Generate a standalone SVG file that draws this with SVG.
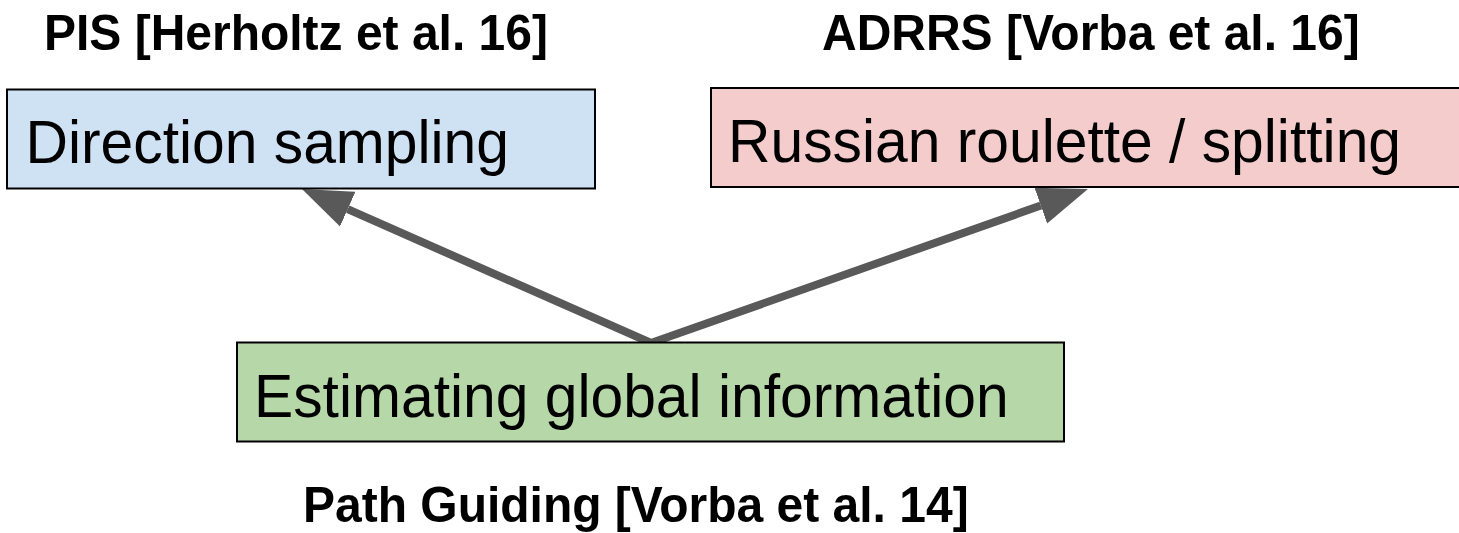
<svg xmlns="http://www.w3.org/2000/svg" width="1459" height="533" viewBox="0 0 1459 533">
  <defs>
    <style>
      .box { stroke: #000; stroke-width: 2; }
      .label { font-family: "Liberation Sans", Arial, sans-serif; font-size: 58.8px; fill: #000; }
      .title { font-family: "Liberation Sans", Arial, sans-serif; font-size: 48px; font-weight: bold; fill: #000; }
      .conn { fill: none; stroke: #595959; stroke-width: 8; stroke-linejoin: miter; }
    </style>
    <marker id="head" markerUnits="userSpaceOnUse" viewBox="0 -20 50 40" refX="0" refY="0" markerWidth="50" markerHeight="40" orient="auto-start-reverse">
      <path d="M0,-19 L50,0 L0,19 z" fill="#595959"/>
    </marker>
  </defs>
  <rect width="1459" height="533" fill="#fff"/>

  <!-- connectors: one V-shaped path from the bottom node up to both upper nodes -->
  <g id="connectors">
    <path class="conn" d="M347.7,209.2 L651,343 L1040.8,205.6" marker-start="url(#head)" marker-end="url(#head)"/>
  </g>

  <g id="direction-sampling">
    <rect class="box" x="7" y="89.5" width="588" height="99" fill="#cfe2f3"/>
    <text class="label" transform="translate(25.5,163) scale(1,1.05)">Direction sampling</text>
  </g>

  <g id="russian-roulette">
    <rect class="box" x="711" y="88" width="760" height="99" fill="#f4cccc"/>
    <text class="label" transform="translate(728,162) scale(1,1.05)">Russian roulette / splitting</text>
  </g>

  <g id="global-information">
    <rect class="box" x="237" y="342.5" width="827" height="99" fill="#b6d7a8"/>
    <text class="label" transform="translate(254,417) scale(1,1.05)">Estimating global information</text>
  </g>

  <g id="titles">
    <text class="title" transform="translate(44,50) scale(1,1.04)">PIS [Herholtz et al. 16]</text>
    <text class="title" transform="translate(822,50) scale(1,1.04)">ADRRS [Vorba et al. 16]</text>
    <text class="title" transform="translate(303,522) scale(1,1.04)">Path Guiding [Vorba et al. 14]</text>
  </g>
</svg>
